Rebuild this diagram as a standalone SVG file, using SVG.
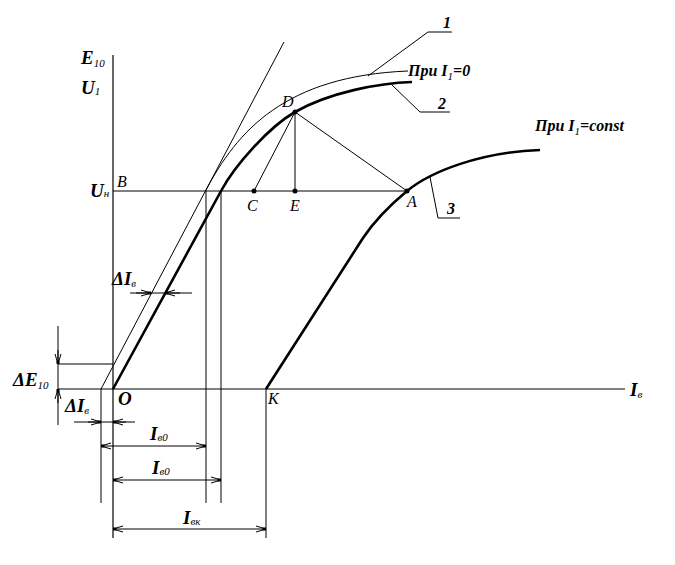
<svg xmlns="http://www.w3.org/2000/svg" width="675" height="565" viewBox="0 0 675 565">
<style>
.ln{fill:none;stroke:#000;stroke-width:1}
.ax{fill:none;stroke:#000;stroke-width:1.2}
.tk{fill:none;stroke:#000;stroke-width:2.6;stroke-linejoin:round}
.dim{fill:none;stroke:#000;stroke-width:1}
.ar{fill:none;stroke:#000;stroke-width:1;marker-end:url(#arr)}
text{font-family:"Liberation Serif","Times New Roman",serif;fill:#000}
.b{font-weight:bold;font-style:italic;font-size:19px}
.s{font-weight:normal;font-style:italic;font-size:11px}
.p{font-style:italic;font-size:16px}
.n{font-weight:bold;font-style:italic;font-size:16px}
.dot{fill:#000}
</style>
<defs>
<marker id="arr" markerUnits="userSpaceOnUse" markerWidth="14" markerHeight="10" viewBox="-11 -5 12 10" refX="0" refY="0" orient="auto" overflow="visible">
<path d="M-10,-3 L0,0 L-10,3" fill="none" stroke="#000" stroke-width="1"/>
<rect x="-3.5" y="-1.5" width="3.5" height="3" fill="#000"/>
</marker>
</defs>
<g id="axes">
<path class="ax" d="M113,55 L113,538"/>
<path class="ax" d="M58,389 L625,389"/>
</g>
<g id="connectors">
<g id="curve1">
<path class="ln" d="M101,389 L284,42"/>
<path class="ln" d="M205.5,191 C237,131 285,76 408,71"/>
</g>
<g id="curve2">
<path class="tk" d="M113,389 L221,191 C235,165 269,127 295,112 C330,92 380,83 412,82"/>
</g>
<g id="curve3">
<path class="tk" d="M266,389 L363,238 C375,220 395,201 407,191 C430,172 480,152 540,150"/>
</g>
<g id="construction">
<path class="ln" d="M113,191 L407,191"/>
<path class="ln" d="M295,112 L295,191"/>
<path class="ln" d="M295,112 L407,191"/>
<path class="ln" d="M295,112 L254,191"/>
<circle class="dot" cx="254" cy="191" r="2.5"/>
<circle class="dot" cx="295" cy="191" r="2.5"/>
<circle class="dot" cx="407" cy="191" r="2.5"/>
<circle class="dot" cx="295" cy="112" r="2.5"/>
</g>
<g id="leaders">
<path class="ln" d="M368,76 L428,32 L452,32"/>
<path class="ln" d="M392,85 L420,112 L450,112"/>
<path class="ln" d="M430,177 L438,218 L460,218"/>
</g>
<g id="dimensions">
<path class="dim" d="M58,326 L58,425"/>
<path class="dim" d="M58,364 L113,364"/>
<path class="ar" d="M58,350 L58,364"/>
<path class="ar" d="M58,403 L58,389"/>
<path class="dim" d="M130,293 L192,293"/>
<path class="ar" d="M136,293 L151,293"/>
<path class="ar" d="M180,293 L165,293"/>
<path class="dim" d="M101,389 L101,503"/>
<path class="dim" d="M206,191 L206,503"/>
<path class="dim" d="M221,191 L221,503"/>
<path class="dim" d="M266,389 L266,538"/>
<path class="dim" d="M74,422 L135,422"/>
<path class="ar" d="M88,422 L101,422"/>
<path class="ar" d="M126,422 L113,422"/>
<path class="ar" d="M150,446 L101,446"/>
<path class="ar" d="M150,446 L206,446"/>
<path class="ar" d="M160,480 L113,480"/>
<path class="ar" d="M160,480 L221,480"/>
<path class="ar" d="M190,529 L113,529"/>
<path class="ar" d="M190,529 L266,529"/>
</g>
</g>
<g id="labels">
<text class="b" x="81" y="64">E<tspan class="s" dy="3">10</tspan></text>
<text class="b" x="81" y="94">U<tspan class="s" dy="1">1</tspan></text>
<text class="b" x="90" y="197">U<tspan class="s" dy="0">н</tspan></text>
<text class="p" x="117" y="187">B</text>
<text class="p" x="282" y="107">D</text>
<text class="p" x="247" y="211">C</text>
<text class="p" x="290" y="211">E</text>
<text class="p" x="407" y="207">A</text>
<text class="p" x="268" y="404">K</text>
<text class="b" x="118" y="405">O</text>
<text class="b" x="630" y="396">I<tspan class="s" dy="2">в</tspan></text>
<text class="b" x="112" y="285">ΔI<tspan class="s" dy="2">в</tspan></text>
<text class="b" x="65" y="412">ΔI<tspan class="s" dy="2">в</tspan></text>
<text class="b" x="13" y="386">ΔE<tspan class="s" dy="3">10</tspan></text>
<text class="b" x="150" y="440">I<tspan class="s" dy="1">в0</tspan></text>
<text class="b" x="152" y="474">I<tspan class="s" dy="1">в0</tspan></text>
<text class="b" x="183" y="524">I<tspan class="s" dy="1">вк</tspan></text>
<text class="n" x="443" y="28">1</text>
<text class="n" x="438" y="109">2</text>
<text class="n" x="447" y="214">3</text>
<text class="n" x="408" y="76">При I<tspan class="s" dy="4">1</tspan><tspan dy="-4">=0</tspan></text>
<text class="n" x="535" y="131">При I<tspan class="s" dy="4">1</tspan><tspan dy="-4">=const</tspan></text>
</g>
</svg>
